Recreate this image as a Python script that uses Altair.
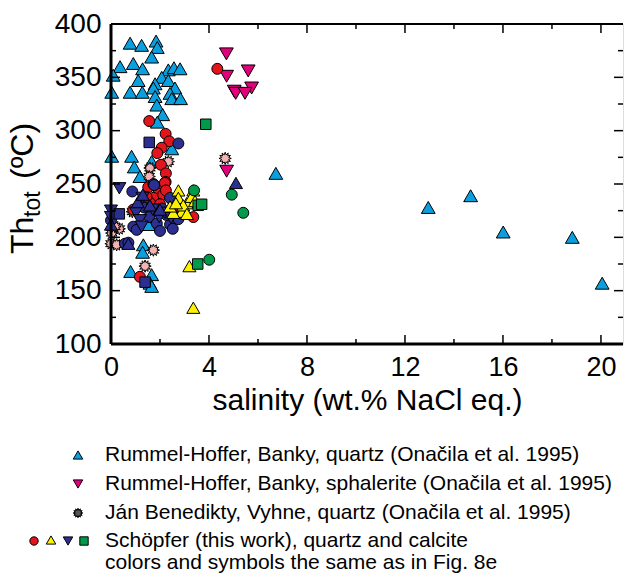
import math
import altair as alt
import pandas as pd

# ---------------- data ----------------
cyan_x = [0.78, 1.25, 1.84, 1.89, 1.66, 0.37, 0.91, 1.29, 0.09, 2.34, 2.57, 2.82, 1.11, 2.07, 2.34, 1.80,
          0.03, 0.78, 1.28, 1.73, 2.61, 2.41, 1.80, 2.48, 2.84, 1.87, 2.11, 1.89, 0.03, 0.84, 0.95, 1.18,
          1.66, 2.48, 6.73, 1.52, 1.32, 1.29, 0.80, 1.66, 1.59, 1.66, 12.95, 14.68, 16.01, 18.83, 20.05]
cyan_t = [382, 380, 384, 378, 369, 360, 363, 358, 352, 357, 359, 358, 347, 350, 347, 344,
          336, 336, 336, 340, 340, 335, 332, 330, 330, 324, 315, 308, 276, 276, 266, 257,
          271, 283, 260, 212, 193, 186, 168, 165, 157, 154, 228, 239, 205, 200, 157]

magenta_x = [4.71, 5.60, 4.72, 5.74, 5.03, 5.09, 5.47, 4.72]
magenta_t = [372, 356, 351, 340, 337, 335, 335, 262]

star_x = [4.66, 2.34, 1.59, 1.56, 1.39, 0.34, 0.03, 0.00, 0.23, 1.73, 0.87, 0.16]
star_t = [274, 271, 265, 257, 173, 208, 204, 194, 193, 188, 224, 210]

red_x = [4.34, 1.56, 2.23, 2.38, 2.07, 1.89, 2.04, 2.24, 1.52, 2.23, 1.87, 2.20, 1.93, 1.73, 0.91,
         2.13, 2.24, 2.82, 3.36, 1.18, 1.60, 1.45, 2.00, 2.50]
red_t = [358, 309, 297, 290, 284, 279, 268, 260, 247, 252, 247, 251, 241, 237, 226,
         240, 244, 227, 219, 163, 232, 238, 231, 235]

navy_circ_x = [2.75, 1.73, 0.87, 1.76, 2.07, 2.41, 0.91, 1.05, 1.56, 1.87, 2.41, 2.75, 2.52, 2.26,
               0.57, 0.71, 0.00, 1.35, 2.00]
navy_circ_t = [288, 250, 243, 249, 227, 237, 210, 207, 219, 213, 212, 217, 208, 221,
               194, 195, 216, 228, 206]

navy_up_x = [1.09, 1.59, 0.00, 0.71, 5.10, 1.30, 2.00]
navy_up_t = [233, 230, 212, 194, 251, 240, 226]

navy_down_x = [0.34, 1.29, 0.00, 0.00, 1.02, 1.18, 1.25, 1.97, 2.20, 1.70, 2.45]
navy_down_t = [246, 237, 225, 219, 223, 216, 210, 219, 223, 226, 218]

navy_sq_x = [1.56, 0.34, 1.39]
navy_sq_t = [289, 222, 158]

yellow_x = [2.75, 3.36, 2.75, 3.09, 3.29, 2.89, 2.54, 2.41, 2.95, 3.43, 3.20, 3.36, 3.10, 2.65]
yellow_t = [244, 244, 237, 232, 238, 224, 223, 229, 230, 234, 173, 134, 222, 232]

green_sq_x = [3.56, 3.70, 3.54, 3.87]
green_sq_t = [230, 231, 175, 306]

green_circ_x = [4.93, 5.40, 4.01, 3.39]
green_circ_t = [240, 223, 179, 244]

x_labels = [0, 4, 8, 12, 16, 20]
y_labels = [100, 150, 200, 250, 300, 350, 400]
x_major = [0, 4, 8, 12, 16, 20]
x_minor = [2, 6, 10, 14, 18]
y_major = [100, 150, 200, 250, 300, 350, 400]
y_minor = [125, 175, 225, 275, 325, 375]

legend_lines = [
    "Rummel-Hoffer, Banky, quartz (Onačila et al. 1995)",
    "Rummel-Hoffer, Banky, sphalerite (Onačila et al. 1995)",
    "Ján Benedikty, Vyhne, quartz (Onačila et al. 1995)",
    "Schöpfer (this work), quartz and calcite",
    "colors and symbols the same as in Fig. 8e",
]

# ---------------- style ----------------
FONT = "Liberation Sans"
W, H = 512, 320
XMAX = 20.9
CYAN = "#0aa0e0"
MAGENTA = "#e4007c"
PINK = "#f4b4b4"
RED = "#e3141b"
NAVY = "#2b2f8f"
YELLOW = "#fff200"
GREEN = "#009a4a"

n = 12
_p = []
for i in range(2 * n):
    r = 1.0 if i % 2 == 0 else 0.6
    a = math.pi * i / n - math.pi / 2
    _p.append(f"{r * math.cos(a):.3f},{r * math.sin(a):.3f}")
STAR = "M" + "L".join(_p) + "Z"

xs = alt.Scale(domain=[0, XMAX], nice=False, zero=False)
ys = alt.Scale(domain=[100, 400], nice=False, zero=False)

x_axis = alt.Axis(values=x_labels, ticks=False, tickSize=0, domain=False, grid=False,
                  labelFlush=False, labelOverlap=False,
                  labelFontSize=27, labelPadding=10, labelFont=FONT, labelColor="black",
                  title="salinity (wt.% NaCl eq.)", titleFont=FONT, titleFontSize=30,
                  titleFontWeight="normal", titleColor="black", titlePadding=5)
y_axis = alt.Axis(values=y_labels, ticks=False, tickSize=0, domain=False, grid=False,
                  labelFlush=False, labelOverlap=False,
                  labelFontSize=28, labelPadding=10, labelFont=FONT, labelColor="black",
                  title="")


def XE(field):
    return alt.X(field, scale=xs, axis=x_axis)


def YE(field):
    return alt.Y(field, scale=ys, axis=y_axis)


def pts(xv, tv, shape, fill, size):
    df = pd.DataFrame({"x": xv, "t": tv})
    return alt.Chart(df).mark_point(shape=shape, filled=True, fill=fill, stroke="black",
                                    strokeWidth=1, size=size, opacity=1).encode(
        x=XE("x:Q"), y=YE("t:Q"))


layers = []
layers.append(pts(cyan_x, cyan_t, "triangle-up", CYAN, 190))
layers.append(pts(magenta_x, magenta_t, "triangle-down", MAGENTA, 190))
layers.append(pts(star_x, star_t, STAR, PINK, 150))
layers.append(pts(red_x, red_t, "circle", RED, 120))
layers.append(pts(navy_circ_x, navy_circ_t, "circle", NAVY, 120))
layers.append(pts(navy_down_x, navy_down_t, "triangle-down", NAVY, 170))
layers.append(pts(navy_up_x, navy_up_t, "triangle-up", NAVY, 170))
layers.append(pts(navy_sq_x, navy_sq_t, "square", NAVY, 110))
layers.append(pts(yellow_x, yellow_t, "triangle-up", YELLOW, 170))
layers.append(pts(green_sq_x, green_sq_t, "square", GREEN, 110))
layers.append(pts(green_circ_x, green_circ_t, "circle", GREEN, 120))


# ---------------- ticks (inward) ----------------
def xticks(vals, length, top):
    df = pd.DataFrame({"x": vals})
    if top:
        yy, yy2 = 0, length
    else:
        yy, yy2 = H, H - length
    return alt.Chart(df).mark_rule(color="black", strokeWidth=1.5).encode(
        x=XE("x:Q"), y=alt.value(yy), y2=alt.value(yy2))


def yticks(vals, length, right):
    df = pd.DataFrame({"t": vals})
    if right:
        xx, xx2 = W, W - length
    else:
        xx, xx2 = 0, length
    return alt.Chart(df).mark_rule(color="black", strokeWidth=1.5).encode(
        y=YE("t:Q"), x=alt.value(xx), x2=alt.value(xx2))


layers += [xticks(x_major, 9, False), xticks(x_minor, 5, False),
           xticks(x_major, 9, True), xticks(x_minor, 5, True),
           yticks(y_major, 9, False), yticks(y_minor, 5, False),
           yticks(y_major, 9, True), yticks(y_minor, 5, True)]

# frame: left, bottom, top
layers.append(alt.Chart().mark_rule(color="black", strokeWidth=3).encode(
    x=alt.value(0), y=alt.value(0), y2=alt.value(H)))
layers.append(alt.Chart().mark_rule(color="black", strokeWidth=3).encode(
    x=alt.value(0), x2=alt.value(W), y=alt.value(H)))
layers.append(alt.Chart().mark_rule(color="black", strokeWidth=2).encode(
    x=alt.value(0), x2=alt.value(W), y=alt.value(0)))


# y title with subscript
def rtext(txt, x, y, size):
    return alt.Chart().mark_text(text=txt, angle=270, align="left", baseline="alphabetic",
                                 font=FONT, fontSize=size, color="black").encode(
        x=alt.value(x), y=alt.value(y))


layers.append(rtext("Th", -78, 230, 32))
layers.append(rtext("tot", -71, 193, 23))
layers.append(rtext("(ºC)", -78, 155, 32))

# legend
leg_y = [431, 460, 489, 517, 539]
for i, line in enumerate(legend_lines):
    layers.append(alt.Chart().mark_text(text=line, align="left", baseline="middle", font=FONT,
                                        fontSize=21, color="black").encode(
        x=alt.value(-6), y=alt.value(leg_y[i])))


def lsym(shape, fill, x, y, size):
    return alt.Chart().mark_point(shape=shape, filled=True, fill=fill, stroke="black",
                                  strokeWidth=1, size=size, opacity=1).encode(
        x=alt.value(x), y=alt.value(y))


layers.append(lsym("triangle-up", CYAN, -33, leg_y[0], 90))
layers.append(lsym("triangle-down", MAGENTA, -33, leg_y[1], 90))
layers.append(lsym(STAR, "#555555", -33, leg_y[2], 90))
layers.append(lsym("circle", RED, -77, leg_y[3], 70))
layers.append(lsym("triangle-up", YELLOW, -60, leg_y[3] - 1, 90))
layers.append(lsym("triangle-down", NAVY, -43, leg_y[3], 90))
layers.append(lsym("square", GREEN, -27, leg_y[3], 70))

chart = alt.layer(*layers).properties(
    width=W, height=H,
    padding={"left": 111, "top": 24, "right": 1, "bottom": 235},
    autosize=alt.AutoSizeParams(type="none"),
).configure_view(stroke=None).configure(background="white")

chart.save("out.html", embed_options={"renderer": "svg", "actions": False})
